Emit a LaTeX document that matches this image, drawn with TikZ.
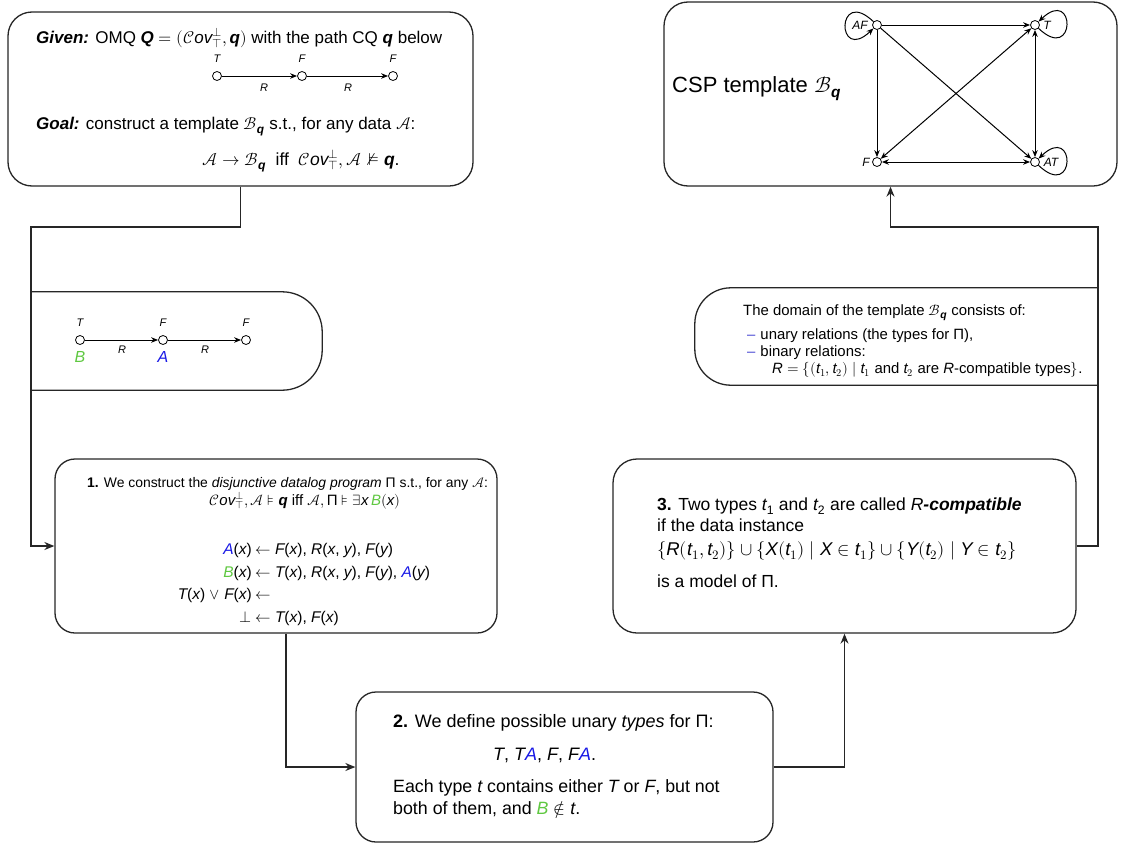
\documentclass[tikz,border=0pt]{standalone}
\usepackage{amsmath}
\usepackage{fontspec}
\usepackage{unicode-math}
\setmainfont{Liberation Sans}
\setmathfont{Latin Modern Math}
\usetikzlibrary{arrows.meta,calc}
\definecolor{blueA}{RGB}{25,25,230}
\definecolor{greenB}{RGB}{95,200,65}
\definecolor{dashblue}{RGB}{70,70,210}
\newcommand{\vi}[1]{\text{\itshape #1}}
\newcommand{\bq}{\text{\bfseries\itshape q}}
\newcommand{\Bq}{\mathcal{B}_{\bq}}
\newcommand{\Cov}{\mathcal{C}\vi{ov}^{\bot}_{\top}}
\newcommand{\Ab}{\textcolor{blueA}{\vi{A}}}
\newcommand{\Bg}{\textcolor{greenB}{\vi{B}}}
\newcommand{\fs}[1]{\fontsize{#1}{#1}\selectfont}
\begin{document}
\begin{tikzpicture}[x=1pt,y=-1pt,
  box/.style={draw=black!85, line width=1.3pt, rounded corners=24pt, fill=white, inner sep=0pt},
  halfbox/.style={draw=black!85, line width=1.3pt},
  conn/.style={draw=black!85, line width=1.3pt},
  arr/.style={conn, -{Stealth[length=10pt,width=8pt]}},
  sarr/.style={draw=black, line width=1pt, -{Stealth[length=7pt,width=5.5pt]}},
  darr/.style={draw=black, line width=1pt, {Stealth[length=7pt,width=5.5pt]}-{Stealth[length=7pt,width=5.5pt]}},
  circ/.style={circle, draw=black, fill=white, line width=0.8pt, minimum size=9pt, inner sep=0pt},
  t/.style={anchor=base west, inner sep=0pt},
  te/.style={anchor=base east, inner sep=0pt},
  lab/.style={inner sep=0pt, font=\fs{11}\itshape}]
\useasboundingbox (0,0) rectangle (1121,846);

% ---------- boxes ----------
\node[box, minimum width=465pt, minimum height=174pt] (given) at (240.5,99) {};
\node[box, minimum width=453pt, minimum height=184pt] (csp) at (890.5,94) {};
\node[box, rounded corners=20pt, minimum width=442pt, minimum height=174pt] (box1) at (276,546) {};
\node[box, rounded corners=20pt, minimum width=417pt, minimum height=150pt] (box2) at (564.5,767) {};
\node[box, minimum width=463pt, minimum height=174pt] (box3) at (844.5,546) {};
\node[inner sep=0pt, minimum width=291pt, minimum height=98pt] (midL) at (176.5,341) {};
\node[inner sep=0pt, minimum width=403pt, minimum height=97pt] (midR) at (896.5,336.5) {};
\draw[halfbox, rounded corners=40pt] (midL.north west) -- (midL.north east) -- (midL.south east) -- (midL.south west);
\draw[halfbox, rounded corners=36pt] (midR.north east) -- (midR.north west) -- (midR.south west) -- (midR.south east);

% ---------- connectors ----------
\coordinate (jL) at (31,227);
\coordinate (jR) at (1098,227);
\draw[arr] (given.south) |- (jL) |- (box1.west);
\draw[arr] ([xshift=10pt]box1.south) |- (box2.west);
\draw[arr] (box2.east) -| (box3.south);
\draw[arr] (box3.east) -| (jR) -| (csp.south);

% ---------- Given box ----------
\node[t, font=\fs{17}] (g1t) at (36,43) {\textbf{\textit{Given:}} OMQ $\text{\bfseries\itshape Q} = (\Cov, \bq)$ with the path CQ \bq\ below};
\node[circ] (ga) at (217,76) {};
\node[circ] (gb) at (302,76) {};
\node[circ] (gc) at (393,76) {};
\draw[sarr] (ga) -- (gb);
\draw[sarr] (gb) -- (gc);
\node[lab] (gaT) at (217,59) {T};
\node[lab] (gbF) at (302,59) {F};
\node[lab] (gcF) at (393,59) {F};
\node[lab] (gR1) at (264,88) {R};
\node[lab] (gR2) at (348,88) {R};
\node[t, font=\fs{17}] (g2t) at (36,129) {\textbf{\textit{Goal:}} construct a template $\Bq$ s.t., for any data $\mathcal{A}$:};
\node[t, font=\fs{17.5}] (g3t) at (202,165) {$\mathcal{A} \rightarrow \Bq$\ \ iff\ \ $\Cov, \mathcal{A} \nvDash \bq$.};

% ---------- CSP box ----------
\node[t, font=\fs{22}] (csptxt) at (672,92) {CSP template $\Bq$};
\node[circ] (AF) at (877,25) {};
\node[circ] (T) at (1035,25) {};
\node[circ] (F) at (877,162) {};
\node[circ] (AT) at (1035,162) {};
\draw[sarr] (AF) .. controls (836,-14) and (836,64) .. (AF);
\draw[sarr] (T) .. controls (1076,64) and (1076,-14) .. (T);
\draw[sarr] (AT) .. controls (1076,201) and (1076,123) .. (AT);
\draw[sarr] (AF) -- (T);
\draw[sarr] (AF) -- (F);
\draw[sarr] (AF) -- (AT);
\draw[darr] (T) -- (AT);
\draw[darr] (F) -- (AT);
\draw[darr] (F) -- (T);
\node[lab, font=\fs{12}\itshape] (lAF) at (860,25) {AF};
\node[lab, font=\fs{12}\itshape] (lT) at (1047,25) {T};
\node[lab, font=\fs{12}\itshape] (lAT) at (1051,162) {AT};
\node[lab, font=\fs{12}\itshape] (lF) at (866,162) {F};

% ---------- left middle box ----------
\node[circ] (ma) at (80,340) {};
\node[circ] (mb) at (163,340) {};
\node[circ] (mc) at (246,340) {};
\draw[sarr] (ma) -- (mb);
\draw[sarr] (mb) -- (mc);
\node[lab] (maT) at (80,323) {T};
\node[lab] (mbF) at (163,323) {F};
\node[lab] (mcF) at (246,323) {F};
\node[lab] (mR1) at (122,350) {R};
\node[lab] (mR2) at (205,350) {R};
\node[inner sep=0pt, font=\fs{16}\itshape, text=greenB] (mB) at (80,357) {B};
\node[inner sep=0pt, font=\fs{16}\itshape, text=blueA] (mA) at (163,357) {A};

% ---------- right middle box ----------
\node[t, font=\fs{14.9}] (r1) at (743,315) {The domain of the template $\Bq$ consists of:};
\node[t, font=\fs{14.9}] (r2) at (747,339) {\textcolor{dashblue}{--}\hspace{5pt}unary relations (the types for Π),};
\node[t, font=\fs{14.9}] (r3) at (747,356) {\textcolor{dashblue}{--}\hspace{5pt}binary relations:};
\node[t, font=\fs{14.9}] (r4) at (772,373) {$\vi{R} = \{(\vi{t}_1, \vi{t}_2) \mid \vi{t}_1$ and $\vi{t}_2$ are \vi{R}-compatible types$\}$.};

% ---------- box 1 ----------
\node[t, font=\fs{13.9}] (b1a) at (87,487) {\textbf{1.} We construct the \textit{disjunctive datalog program} Π s.t., for any $\mathcal{A}$:};
\node[anchor=base, inner sep=0pt, font=\fs{15}] (b1b) at (305,505) {$\Cov, \mathcal{A} \models \bq$ iff $\mathcal{A}, \text{Π} \models \exists \vi{x}\, \Bg(\vi{x})$};
\node[te, font=\fs{15.5}] (r1l) at (252,554) {\Ab(\vi{x})};
\node[t, font=\fs{15.5}] (r1r) at (255,554) {$\leftarrow$ \vi{F}(\vi{x}), \vi{R}(\vi{x}, \vi{y}), \vi{F}(\vi{y})};
\node[te, font=\fs{15.5}] (r2l) at (252,577) {\Bg(\vi{x})};
\node[t, font=\fs{15.5}] (r2r) at (255,577) {$\leftarrow$ \vi{T}(\vi{x}), \vi{R}(\vi{x}, \vi{y}), \vi{F}(\vi{y}), \Ab(\vi{y})};
\node[te, font=\fs{15.5}] (r3l) at (252,599) {\vi{T}(\vi{x}) $\vee$ \vi{F}(\vi{x})};
\node[t, font=\fs{15.5}] (r3r) at (255,599) {$\leftarrow$};
\node[te, font=\fs{15.5}] (r4l) at (252,622) {$\bot$};
\node[t, font=\fs{15.5}] (r4r) at (255,622) {$\leftarrow$ \vi{T}(\vi{x}), \vi{F}(\vi{x})};

% ---------- box 3 ----------
\node[t, font=\fs{17.5}] (b3a) at (657,510) {\textbf{3.} Two types \vi{t}\textsubscript{1} and \vi{t}\textsubscript{2} are called \textit{R}\textbf{\textit{-compatible}}};
\node[t, font=\fs{17.5}] (b3b) at (657,531) {if the data instance};
\node[t, font=\fs{18.5}] (b3c) at (657,555) {$\{\vi{R}(\vi{t}_1, \vi{t}_2)\} \cup \{\vi{X}(\vi{t}_1) \mid \vi{X} \in \vi{t}_1\} \cup \{\vi{Y}(\vi{t}_2) \mid \vi{Y} \in \vi{t}_2\}$};
\node[t, font=\fs{17.5}] (b3d) at (657,587) {is a model of Π.};

% ---------- box 2 ----------
\node[t, font=\fs{18}] (b2a) at (393,727) {\textbf{2.} We define possible unary \textit{types} for Π:};
\node[t, font=\fs{18}] (b2b) at (493,760) {\vi{T}, \vi{T}\Ab, \vi{F}, \vi{F}\Ab.};
\node[t, font=\fs{17.8}] (b2c) at (393,792) {Each type \vi{t} contains either \vi{T} or \vi{F}, but not};
\node[t, font=\fs{17.8}] (b2d) at (393,814) {both of them, and \Bg\ $\notin$ \vi{t}.};
\end{tikzpicture}
\end{document}
